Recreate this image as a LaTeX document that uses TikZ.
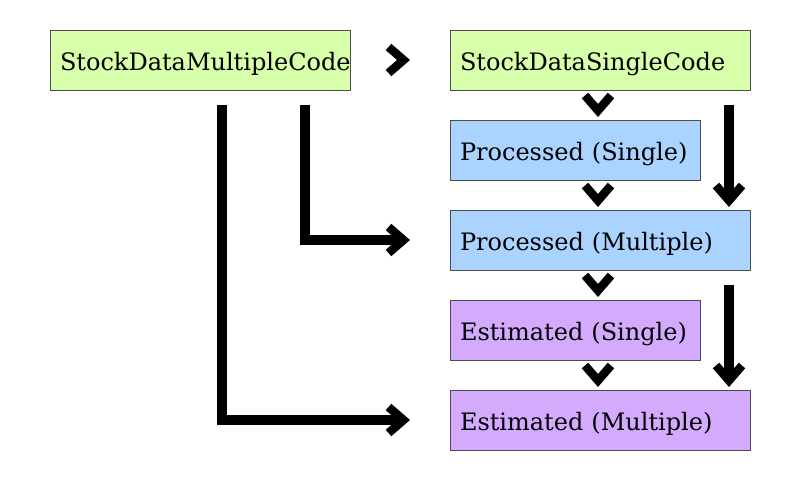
\documentclass[tikz,border=0pt]{standalone}
\usepackage{fontspec}
\setmainfont{DejaVu Serif}
\usetikzlibrary{arrows.meta}
\usetikzlibrary{positioning}

\definecolor{stockgreen}{HTML}{D8FFAA}
\definecolor{procblue}{HTML}{AAD4FF}
\definecolor{estpurple}{HTML}{D4AAFF}

\tikzset{
  box/.style={draw=black!70, line width=1pt, anchor=north west, outer sep=0pt,
    minimum height=60pt, text width=280pt, inner xsep=10pt, inner ysep=0pt,
    align=left, text height=20pt, text depth=0pt,
    font=\fontsize{24}{28}\selectfont},
  short/.style={text width=230pt},
  flow/.style={line width=10pt, line join=miter,
    -{Straight Barb[length=15pt,width=26pt,line width'=8.5pt]}},
  chev/.style={flow, line width=0.5pt}
}

\begin{document}
\begin{tikzpicture}[x=1pt,y=-1pt]
    \useasboundingbox (0,0) rectangle (800,480);

    \node[box, fill=stockgreen] (multi) at (50,30) {StockDataMultipleCode};
    \node[box, fill=stockgreen] (single) [right = 100pt of multi] {StockDataSingleCode};

    \node[box, short, fill=procblue] (procs) [below = 30pt of single.south west, anchor=north west] {Processed (Single)};
    \node[box, fill=procblue] (procm) [below = 30pt of procs.south west, anchor=north west] {Processed (Multiple)};
    \node[box, short, fill=estpurple] (ests) [below = 30pt of procm.south west, anchor=north west] {Estimated (Single)};
    \node[box, fill=estpurple] (estm) [below = 30pt of ests.south west, anchor=north west] {Estimated (Multiple)};

    \draw [chev, shorten <=55pt, shorten >=40pt] (multi.east) -- (single.west);

    \draw [chev, shorten <=22pt, shorten >=3pt] ([xshift=148pt]single.south west) -- ([xshift=148pt]procs.north west);
    \draw [chev, shorten <=22pt, shorten >=3pt] ([xshift=148pt]procs.south west) -- ([xshift=148pt]procm.north west);
    \draw [chev, shorten <=22pt, shorten >=3pt] ([xshift=148pt]procm.south west) -- ([xshift=148pt]ests.north west);
    \draw [chev, shorten <=22pt, shorten >=3pt] ([xshift=148pt]ests.south west) -- ([xshift=148pt]estm.north west);

    \draw [flow, shorten <=15pt, shorten >=3pt] ([xshift=-21pt]single.south east) -- ([xshift=-21pt]procm.north east);
    \draw [flow, shorten <=15pt, shorten >=3pt] ([xshift=-21pt]procm.south east) -- ([xshift=-21pt]estm.north east);

    \draw [flow, shorten <=15pt, shorten >=40pt] ([xshift=-45pt]multi.south east) |- (procm.west);
    \draw [flow, shorten <=15pt, shorten >=40pt] ([xshift=-128pt]multi.south east) |- (estm.west);
  \end{tikzpicture}
\end{document}
